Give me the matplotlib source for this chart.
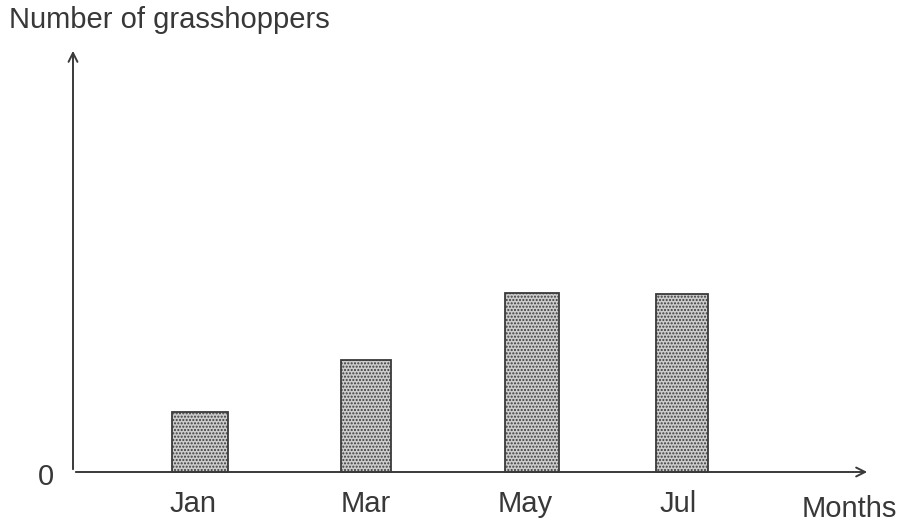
import matplotlib.pyplot as plt

months = ["Jan", "Mar", "May", "Jul"]
grasshoppers = [3.0, 5.6, 8.95, 8.9]
bar_x = [200, 366, 532, 682]
bar_w = [56, 50, 54, 52]
label_x = [193, 366, 525, 678]

plt.rcParams['font.family'] = ['Liberation Sans', 'DejaVu Sans']
plt.rcParams['hatch.color'] = '#6a6a6a'
plt.rcParams['hatch.linewidth'] = 1.0

fig = plt.figure(figsize=(9.02, 5.29), dpi=100)
ax = fig.add_axes([0, 0, 1, 1])
# x in figure pixels, y in 20 px per unit above the baseline
ax.set_xlim(0, 902)
ax.set_ylim(-2.85, 23.6)
ax.axis('off')

ax.bar(bar_x, grasshoppers, width=bar_w, color='#cccccc', edgecolor='#3a3a3a',
       linewidth=1.3, hatch='.....', zorder=2)

# axes with open arrow heads
arrow = dict(arrowstyle='->', color='#3a3a3a', lw=1.4, mutation_scale=16)
ax.annotate('', xy=(870, 0), xytext=(73, 0), arrowprops=arrow, zorder=3)
ax.annotate('', xy=(73, 21.2), xytext=(73, 0), arrowprops=arrow, zorder=3)

txt = dict(color='#383838', fontsize=21)
for x, m in zip(label_x, months):
    ax.text(x, -1.6, m, ha='center', va='center', **txt)
ax.text(46, -0.25, "0", ha='center', va='center', **txt)
ax.text(849, -1.85, "Months", ha='center', va='center', **txt)
ax.text(9, 22.6, "Number of grasshoppers", ha='left', va='center', **txt)

fig.savefig("out.png", dpi=100)
